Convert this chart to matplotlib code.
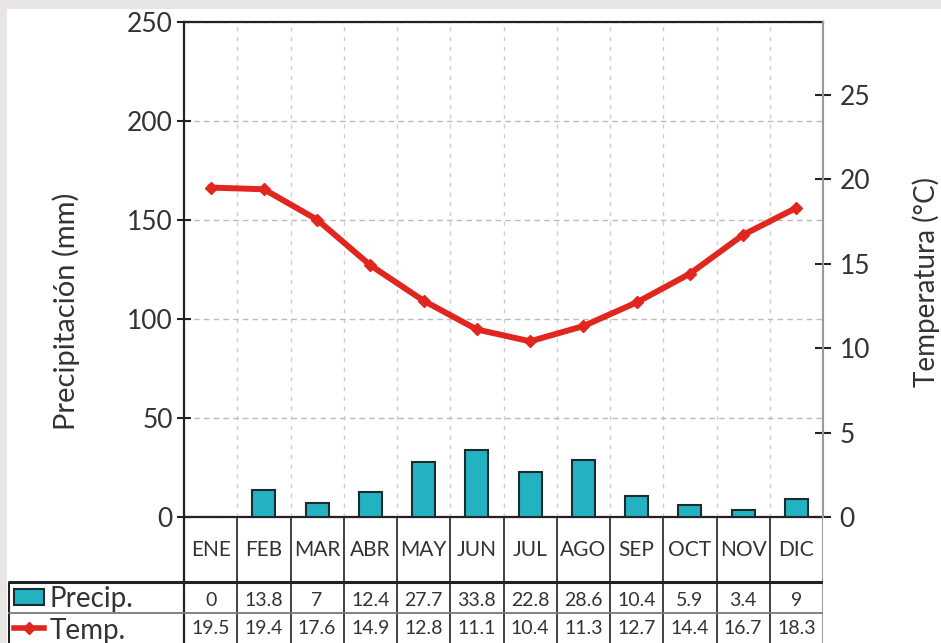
import matplotlib
matplotlib.use("Agg")
import matplotlib.pyplot as plt
from matplotlib.patches import Rectangle
from matplotlib.lines import Line2D
from matplotlib.ticker import FixedLocator

plt.rcParams['font.family'] = ['Lato', 'DejaVu Sans']

meses = ["ENE", "FEB", "MAR", "ABR", "MAY", "JUN", "JUL", "AGO", "SEP", "OCT", "NOV", "DIC"]
precip = [0, 13.8, 7, 12.4, 27.7, 33.8, 22.8, 28.6, 10.4, 5.9, 3.4, 9]
temp = [19.5, 19.4, 17.6, 14.9, 12.8, 11.1, 10.4, 11.3, 12.7, 14.4, 16.7, 18.3]
precip_txt = ["0", "13.8", "7", "12.4", "27.7", "33.8", "22.8", "28.6", "10.4", "5.9", "3.4", "9"]
temp_txt = ["19.5", "19.4", "17.6", "14.9", "12.8", "11.1", "10.4", "11.3", "12.7", "14.4", "16.7", "18.3"]

W, H = 941, 643
azul = "#22b2c1"
rojo = "#e0261f"
txt = "#333333"

fig = plt.figure(figsize=(W / 100, H / 100), dpi=100, facecolor="#e9e5e5")
fig.patches.append(Rectangle((7 / W, 0), 1, 1 - 9 / H, transform=fig.transFigure,
                             facecolor="white", edgecolor="none", zorder=-5))

ax = fig.add_axes([184 / W, 1 - 517 / H, 639 / W, 495 / H])
ax.set_facecolor("none")
x = list(range(12))
ax.bar(x, precip, width=0.43, color=azul, edgecolor="#1c2c2e", linewidth=1.5, zorder=3)
ax.set_xlim(-0.5, 11.5)
ax.set_ylim(0, 250)
ax.set_yticks([0, 50, 100, 150, 200, 250])
ax.set_xticks([])
ax.xaxis.set_minor_locator(FixedLocator([i + 0.5 for i in range(11)]))
ax.grid(which="minor", axis="x", color="#cccccc", linestyle=(0, (3, 4)), linewidth=1)
ax.grid(which="major", axis="y", color="#bbbbbb", linestyle=(0, (4, 3)), linewidth=1)
ax.tick_params(axis="x", which="both", length=0)
ax.tick_params(axis="y", direction="inout", length=10, width=1.5, colors="#222222",
               labelsize=19, labelcolor=txt, pad=3)
for s in ["left", "top", "bottom"]:
    ax.spines[s].set_color("#222222")
    ax.spines[s].set_linewidth(1.6)
ax.spines["right"].set_visible(False)

ax2 = ax.twinx()
ax2.plot(x, temp, color=rojo, linewidth=4.3, marker="D", markersize=6, zorder=4)
ax2.set_ylim(0, 29.3)
ax2.set_yticks([0, 5, 10, 15, 20, 25])
ax2.tick_params(axis="y", direction="inout", length=12, width=1.5, colors="#222222",
                labelsize=19, labelcolor=txt, pad=6)
for s in ["left", "top", "bottom"]:
    ax2.spines[s].set_visible(False)
ax2.spines["right"].set_color("#999999")
ax2.spines["right"].set_linewidth(1.5)

fig.text(66 / W, 1 - 311 / H, "Precipitación (mm)", rotation=90, ha="center", va="center",
         fontsize=21, color=txt)
fig.text(926 / W, 1 - 282 / H, "Temperatura (°C)", rotation=90, ha="center", va="center",
         fontsize=20, color=txt)

# tabla de datos debajo del grafico
tab = fig.add_axes([8 / W, 0, (823 - 8) / W, 126 / H])
tab.set_xlim(-0.5 - 176 / 53.25, 11.5)
tab.set_ylim(126, 0)
tab.axis("off")
x0 = -0.5 - 176 / 53.25
tab.vlines([i + 0.5 for i in range(11)], 0, 126, color="#333333", linewidth=1.3)
tab.vlines([-0.5], 0, 126, color="#222222", linewidth=1.6)
tab.vlines([11.5], 0, 126, color="#999999", linewidth=1.5)
tab.vlines([x0 + 0.02], 65, 126, color="#222222", linewidth=1.5)
tab.hlines([65], x0, 11.5, color="#222222", linewidth=2.2)
tab.hlines([96], x0, 11.5, color="#777777", linewidth=1.3)
for i in range(12):
    tab.text(i, 33, meses[i], ha="center", va="center", fontsize=15, color=txt)
    tab.text(i, 83, precip_txt[i], ha="center", va="center", fontsize=14, color=txt)
    tab.text(i, 112, temp_txt[i], ha="center", va="center", fontsize=14, color=txt)

k = 53.25
tab.add_patch(Rectangle((x0 + 6 / k, 72), 30 / k, 16, facecolor=azul, edgecolor="#1c2c2e",
                        linewidth=1.5))
tab.add_line(Line2D([x0 + 6 / k, x0 + 36 / k], [111, 111], color=rojo, linewidth=4,
                    clip_on=False))
tab.plot([x0 + 21 / k], [111], marker="D", color=rojo, markersize=6)
tab.text(x0 + 42 / k, 82, "Precip.", ha="left", va="center", fontsize=20, color=txt)
tab.text(x0 + 42 / k, 114, "Temp.", ha="left", va="center", fontsize=20, color=txt)

fig.savefig("out.png", dpi=100, facecolor=fig.get_facecolor())
